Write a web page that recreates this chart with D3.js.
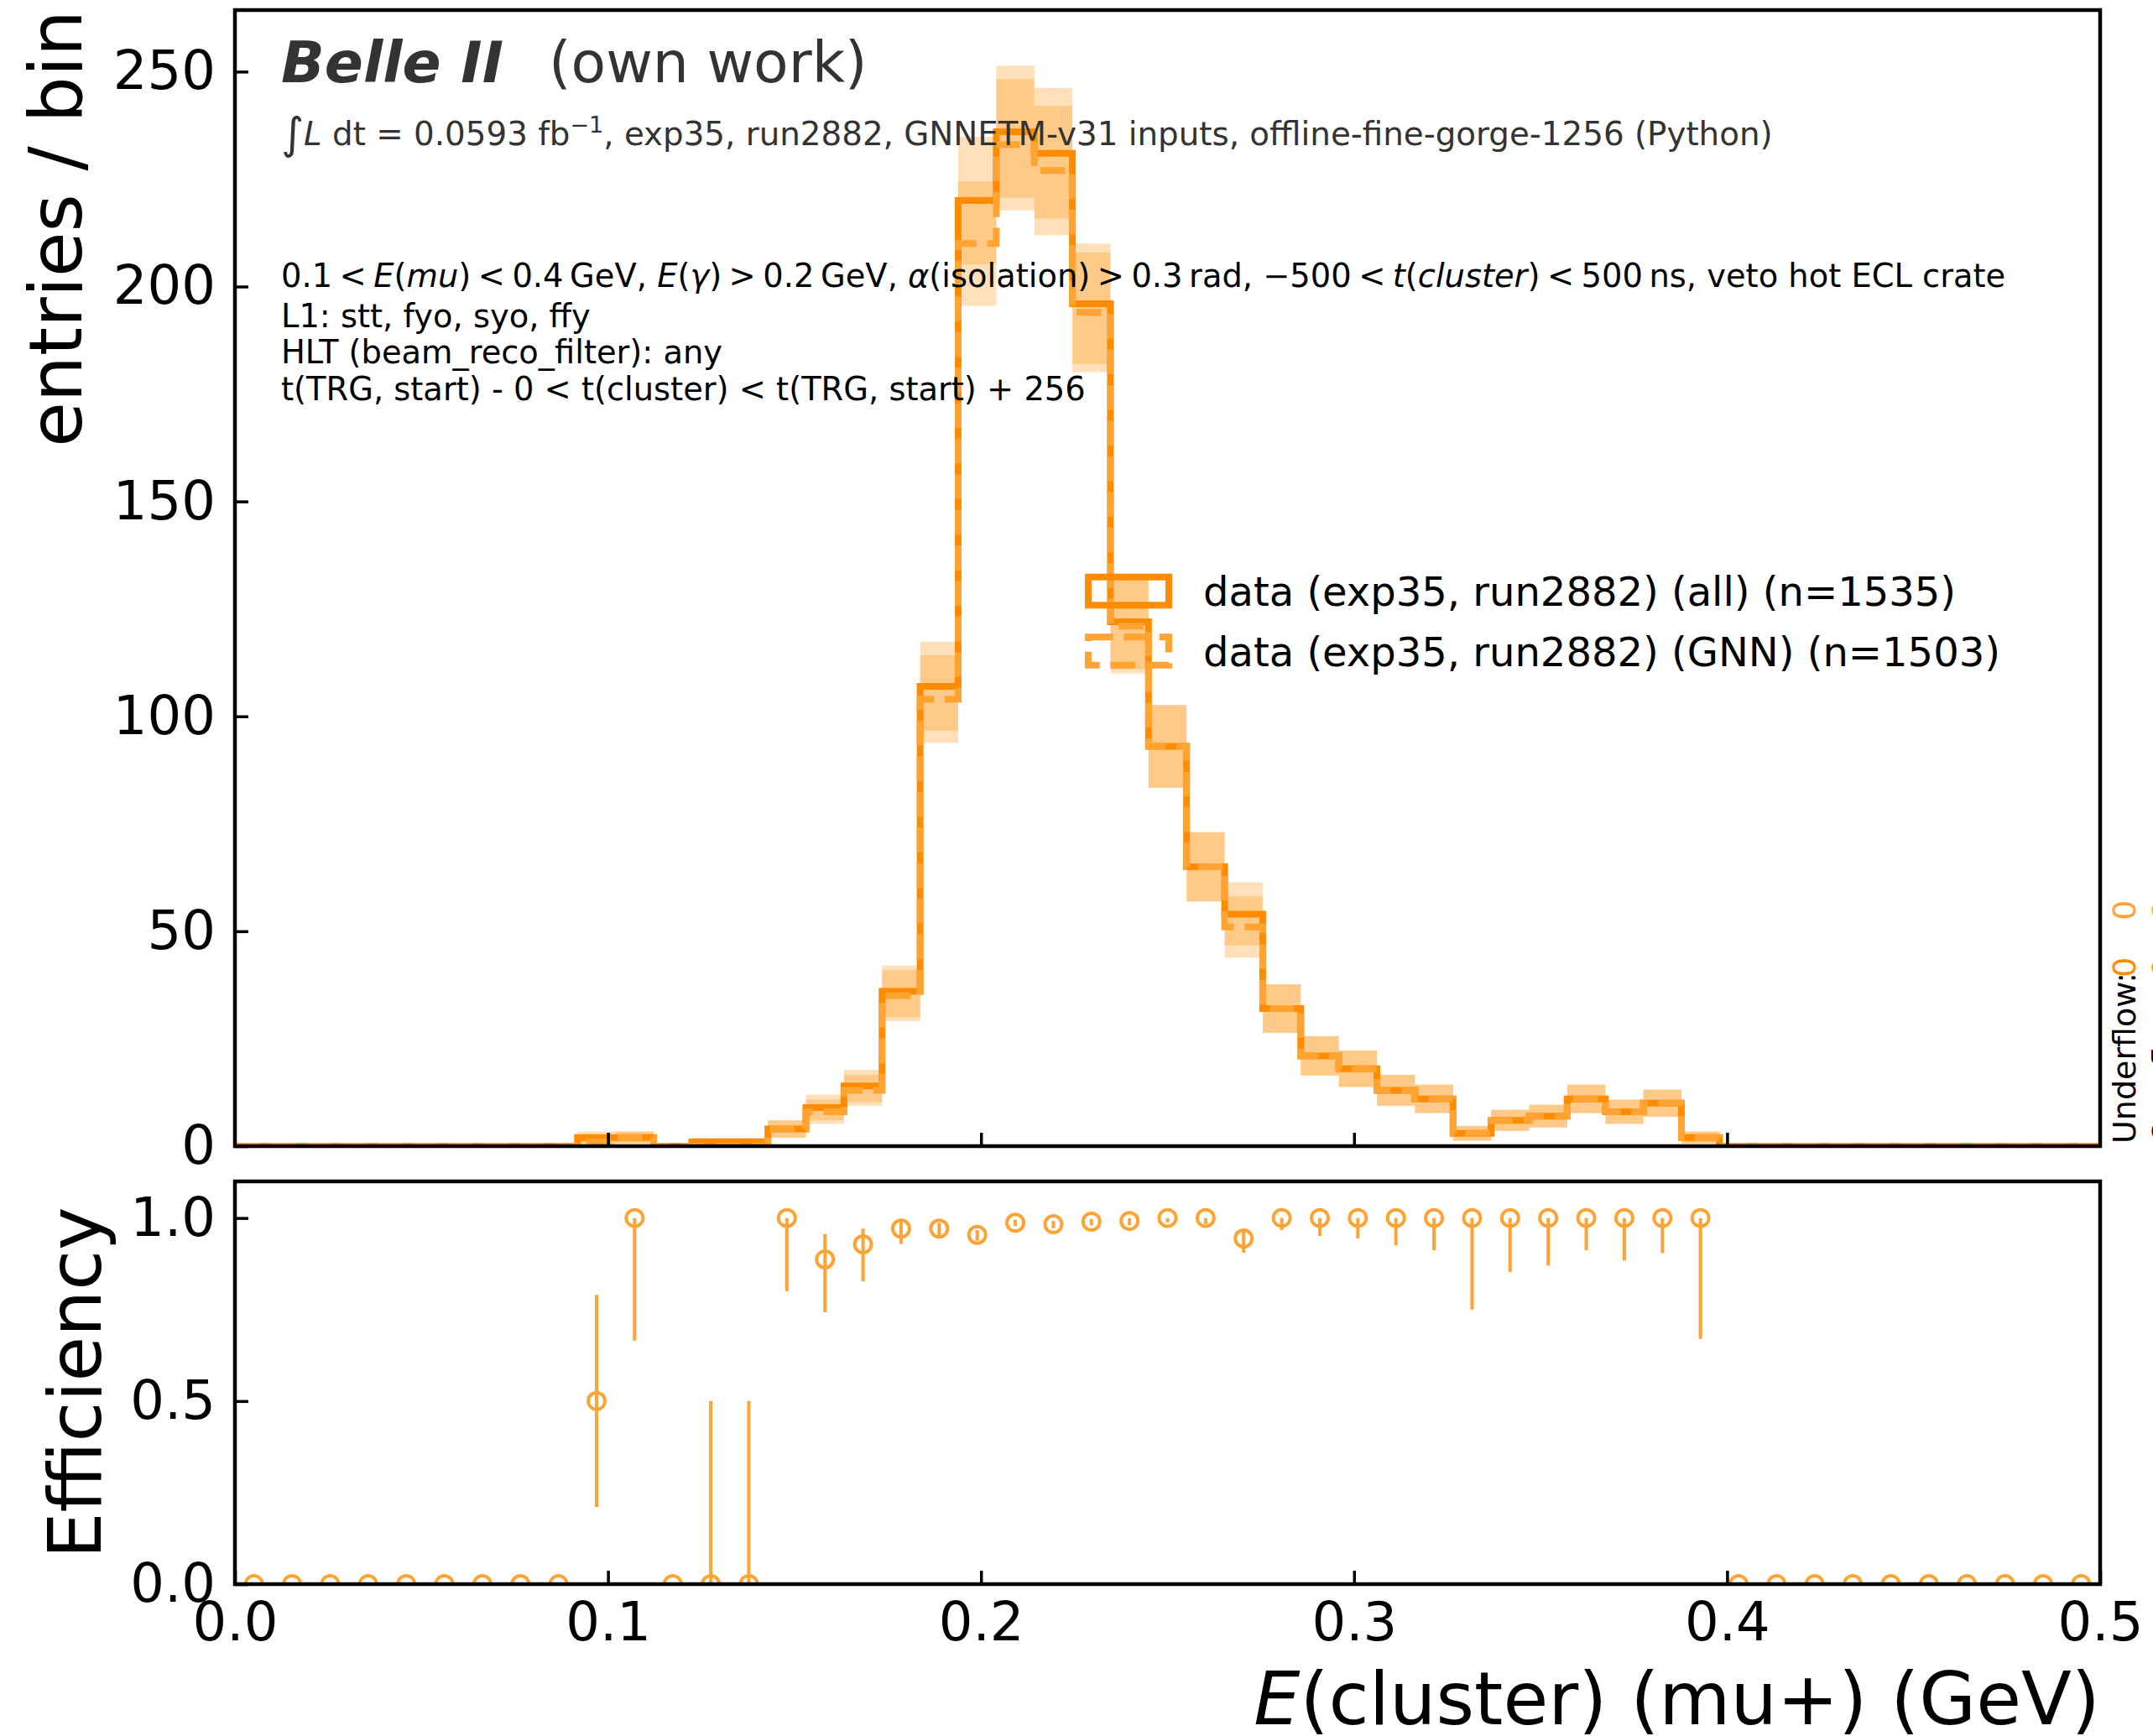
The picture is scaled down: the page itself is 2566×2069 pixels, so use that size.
<!DOCTYPE html>
<html><head><meta charset="utf-8">
<script src="https://cdn.jsdelivr.net/npm/d3@7"></script>
<style>html,body{margin:0;padding:0;background:#fff;} svg{display:block;font-family:"DejaVu Sans",sans-serif;}</style>
</head><body><svg id="c" width="2566" height="2069"></svg>
<script>
// ---------------- data ----------------
const binLow = 0.0, binHigh = 0.5, nBins = 49;
const countsAll = [0,0,0,0,0,0,0,0,0, 2,2,0,1,1,4,9,14,36,107,220,236,231,196,122,93,65,54,32,21,18,13,11,3,6,7,11,8,10,2, 0,0,0,0,0,0,0,0,0,0];
const countsGNN = [0,0,0,0,0,0,0,0,0, 1,2,0,0,0,4,8,13,35,104,210,233,227,194,121,93,65,51,32,21,18,13,11,3,6,7,11,8,10,2, 0,0,0,0,0,0,0,0,0,0];
const effValue = [0,0,0,0,0,0,0,0,0, 0.5,1.0,0,0,0,1.0,0.887,0.928,0.971,0.971,0.954,0.987,0.983,0.990,0.992,1.0,1.0,0.944,1,1,1,1,1,1,1,1,1,1,1,1, 0,0,0,0,0,0,0,0,0,0];
const effLow   = [0,0,0,0,0,0,0,0,0, 0.21,0.665,0,0,0,0.80,0.743,0.827,0.929,0.953,0.938,0.978,0.972,0.980,0.980,0.988,0.983,0.905,0.967,0.951,0.944,0.925,0.912,0.750,0.852,0.870,0.912,0.884,0.904,0.670, 0,0,0,0,0,0,0,0,0,0];
const effHigh  = [0,0,0,0,0,0,0,0,0, 0.79,1.0,0,0.5,0.5,1.0,0.956,0.971,0.996,0.987,0.967,0.995,0.992,0.997,0.999,1,1,0.968,1,1,1,1,1,1,1,1,1,1,1,1, 0,0,0,0,0,0,0,0,0,0];
const xTicks = [0.0, 0.1, 0.2, 0.3, 0.4, 0.5];
const xTickLabels = ["0.0","0.1","0.2","0.3","0.4","0.5"];
const yTicksTop = [0, 50, 100, 150, 200, 250];
const yTicksEff = [0.0, 0.5, 1.0];
const yTickEffLabels = ["0.0","0.5","1.0"];
const seriesNames = ["data (exp35, run2882) (all) (n=1535)", "data (exp35, run2882) (GNN) (n=1503)"];
const underflowVals = [0, 0];
const overflowVals = [0, 0];
const yMaxTop = 264.32, yMaxEff = 1.1;

// ---------------- style ----------------
const C_ALL = "#FF8C00", C_GNN = "#FFA333";
const svg = d3.select("#c");
const L = 280, R = 2503, T1 = 12, B1 = 1366, T2 = 1408, B2 = 1888;
const x = d3.scaleLinear().domain([binLow, binHigh]).range([L, R]);
const yTop = d3.scaleLinear().domain([0, yMaxTop]).range([B1, T1]);
const yEff = d3.scaleLinear().domain([0, yMaxEff]).range([B2, T2]);
const edges = d3.range(nBins + 1).map(i => binLow + (binHigh - binLow) * i / nBins);

const defs = svg.append("defs");
defs.append("clipPath").attr("id","clipTop").append("rect").attr("x",L).attr("y",T1).attr("width",R-L).attr("height",B1-T1);
defs.append("clipPath").attr("id","clipEff").append("rect").attr("x",L).attr("y",T2).attr("width",R-L).attr("height",B2-T2);

// ---------------- top panel ----------------
const gTop = svg.append("g").attr("clip-path","url(#clipTop)");
[countsAll, countsGNN].forEach(cnt => {
  gTop.append("g").selectAll("rect").data(cnt.map((v,i)=>({v,i})).filter(d=>d.v>0)).join("rect")
    .attr("x", d => x(edges[d.i])).attr("width", d => x(edges[d.i+1]) - x(edges[d.i]))
    .attr("y", d => yTop(d.v + Math.sqrt(d.v)))
    .attr("height", d => yTop(d.v - Math.sqrt(d.v)) - yTop(d.v + Math.sqrt(d.v)))
    .attr("fill", C_ALL).attr("fill-opacity", 0.27);
});
function stepPts(cnt){
  const p = [[edges[0], 0]];
  cnt.forEach((v,i) => { p.push([edges[i], v]); p.push([edges[i+1], v]); });
  p.push([edges[nBins], 0]);
  return p;
}
const line = d3.line().x(d => x(d[0])).y(d => yTop(d[1]));
gTop.append("path").attr("d", line(stepPts(countsAll))).attr("fill","none")
  .attr("stroke", C_ALL).attr("stroke-width", 8).attr("stroke-linejoin","miter");
gTop.append("path").attr("d", line(stepPts(countsGNN))).attr("fill","none")
  .attr("stroke", C_GNN).attr("stroke-width", 8).attr("stroke-dasharray","29.6,12.8").attr("stroke-linejoin","miter");

// axes top
const axLeftTop = d3.axisLeft(yTop).tickValues(yTicksTop).tickSizeInner(-16).tickSizeOuter(0).tickPadding(23).tickFormat(d3.format("d"));
svg.append("g").attr("transform",`translate(${L},0)`).call(axLeftTop);
const axBotTop = d3.axisBottom(x).tickValues(xTicks.slice(1,-1)).tickSizeInner(-16).tickSizeOuter(0).tickFormat("");
svg.append("g").attr("transform",`translate(0,${B1})`).call(axBotTop);

// ---------------- efficiency panel ----------------
const gEff = svg.append("g").attr("clip-path","url(#clipEff)");
const centers = edges.slice(0,-1).map((e,i) => (e + edges[i+1]) / 2);
gEff.append("g").selectAll("line").data(effValue.map((v,i)=>({i,lo:effLow[i],hi:effHigh[i]})).filter(d=>d.hi>d.lo)).join("line")
  .attr("x1", d => x(centers[d.i])).attr("x2", d => x(centers[d.i]))
  .attr("y1", d => yEff(d.lo)).attr("y2", d => yEff(d.hi))
  .attr("stroke", C_GNN).attr("stroke-width", 4);
gEff.append("g").selectAll("circle").data(effValue.map((v,i)=>({i,v}))).join("circle")
  .attr("cx", d => x(centers[d.i])).attr("cy", d => yEff(d.v)).attr("r", 10)
  .attr("fill","none").attr("stroke", C_GNN).attr("stroke-width", 4);

const axLeftEff = d3.axisLeft(yEff).tickValues(yTicksEff).tickSizeInner(-16).tickSizeOuter(0).tickPadding(23).tickFormat((d,i)=>yTickEffLabels[i]);
svg.append("g").attr("transform",`translate(${L},0)`).call(axLeftEff);
const axBotEff = d3.axisBottom(x).tickValues(xTicks).tickSizeInner(-16).tickSizeOuter(0).tickPadding(22).tickFormat((d,i)=>xTickLabels[i]);
svg.append("g").attr("transform",`translate(0,${B2})`).call(axBotEff);

svg.selectAll(".domain").remove();
svg.selectAll(".tick line").attr("stroke","#000").attr("stroke-width",3.5);
svg.selectAll(".tick text").attr("font-size",64).attr("font-family","DejaVu Sans").attr("fill","#000");

// spines
svg.append("rect").attr("x",L).attr("y",T1).attr("width",R-L).attr("height",B1-T1).attr("fill","none").attr("stroke","#000").attr("stroke-width",4.5);
svg.append("rect").attr("x",L).attr("y",T2).attr("width",R-L).attr("height",B2-T2).attr("fill","none").attr("stroke","#000").attr("stroke-width",4.5);

// ---------------- axis labels ----------------
svg.append("text").attr("transform","translate(97,12) rotate(-90)").attr("text-anchor","end")
  .attr("font-size",87).text("entries / bin");
svg.append("text").attr("transform",`translate(120,${(T2+B2)/2}) rotate(-90)`).attr("text-anchor","middle")
  .attr("font-size",87).text("Efficiency");
const xl = svg.append("text").attr("x",R).attr("y",2055).attr("text-anchor","end").attr("font-size",87.5);
xl.append("tspan").attr("font-style","italic").text("E");
xl.append("tspan").text("(cluster) (mu+) (GeV)");

// ---------------- annotations ----------------
svg.append("text").attr("x",335).attr("y",98).attr("font-size",68).attr("font-weight","bold").attr("font-style","italic").attr("fill","#333").text("Belle II");
svg.append("text").attr("x",654).attr("y",98).attr("font-size",68).attr("fill","#333").text("(own work)");
const l2 = svg.append("text").attr("x",335).attr("y",173).attr("font-size",38.8).attr("fill","#333");
l2.append("tspan").attr("font-size",52).attr("dy",4).text("∫");
l2.append("tspan").attr("font-style","italic").attr("dy",-4).text("L");
l2.append("tspan").text(" dt = 0.0593 fb");
l2.append("tspan").attr("font-size",27).attr("dy",-15).text("−1");
l2.append("tspan").attr("dy",15).text(", exp35, run2882, GNNETM-v31 inputs, offline-fine-gorge-1256 (Python)");

// mathtext-like cut line: relations get thinner spacing
const l3 = svg.append("text").attr("x",335).attr("y",342).attr("font-size",38.4).attr("fill","#000");
const parts = [["0.1",0],["<",2],["E",1],["(",0],["mu",1],[")",0],["<",2],["0.4\u2009GeV, ",0],["E",1],["(",0],["γ",1],[")",0],[">",2],["0.2\u2009GeV, ",0],["α",1],["(isolation)",0],[">",2],["0.3\u2009rad, −500",0],["<",2],["t",1],["(",0],["cluster",1],[")",0],["<",2],["500\u2009ns, veto hot ECL crate",0]];
let pendingDx = 0;
parts.forEach(p => {
  const t = l3.append("tspan").text(p[0]);
  if (p[1] === 1) t.attr("font-style","italic");
  if (p[1] === 2) { t.attr("dx", 8.5); pendingDx = 8.5; }
  else if (pendingDx) { t.attr("dx", pendingDx); pendingDx = 0; }
});
const otherLines = [["L1: stt, fyo, syo, ffy",390],["HLT (beam_reco_filter): any",433],["t(TRG, start) - 0 < t(cluster) < t(TRG, start) + 256",477]];
otherLines.forEach(d => svg.append("text").attr("x",335).attr("y",d[1]).attr("font-size",38.4).attr("fill","#000").text(d[0]));

// ---------------- legend ----------------
const legRows = [{y:704.5, c:C_ALL, dash:null},{y:776, c:C_GNN, dash:"29.6,12.8"}];
legRows.forEach((r,i) => {
  const rc = svg.append("rect").attr("x",1297).attr("y",r.y-16.8).attr("width",96).attr("height",33.6)
    .attr("fill","none").attr("stroke",r.c).attr("stroke-width",8);
  if (r.dash) rc.attr("stroke-dasharray", r.dash);
  svg.append("text").attr("x",1434).attr("y",r.y+17.5).attr("font-size",48).attr("fill","#000").text(seriesNames[i]);
});

// ---------------- underflow / overflow ----------------
const flowRows = [{label:"Underflow:", vals:underflowVals, bx:2545},{label:"Overflow:", vals:overflowVals, bx:2592}];
flowRows.forEach(f => {
  svg.append("text").attr("transform",`translate(${f.bx},${B1-3}) rotate(-90)`).attr("font-size",38).attr("fill","#000").text(f.label);
  const ys = [1165, 1097];
  f.vals.forEach((v,j) => svg.append("text").attr("transform",`translate(${f.bx},${ys[j]}) rotate(-90)`)
    .attr("font-size",38).attr("fill", j===0 ? C_ALL : C_GNN).text(v));
});
</script></body></html>
